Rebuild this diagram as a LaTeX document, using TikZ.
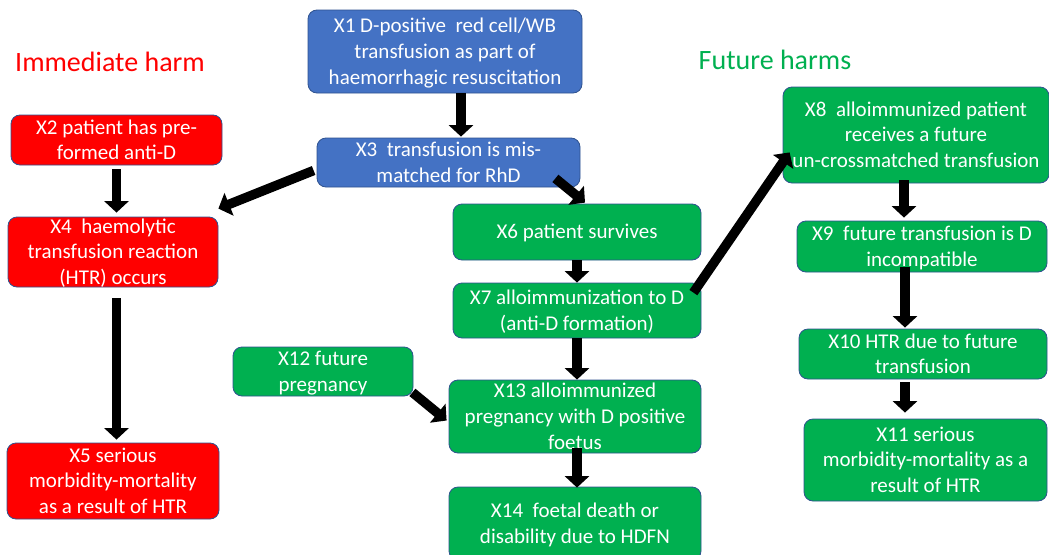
\documentclass[tikz,border=0pt]{standalone}
\usepackage{fontspec}
\setmainfont{Carlito}
\usetikzlibrary{arrows.meta,calc}
\definecolor{pblue}{HTML}{4472C4}
\definecolor{pred}{HTML}{FF0000}
\definecolor{pgreen}{HTML}{00B050}
\definecolor{pedge}{HTML}{2F528F}
\newcommand\bt[1]{\raisebox{-7pt}[0pt][0pt]{\begin{tabular}{@{}c@{}}#1\end{tabular}}}
\begin{document}
\begin{tikzpicture}[x=1pt,y=-1pt,
 box/.style={draw=pedge, line width=0.8pt, rounded corners=9pt, text=white, inner sep=0pt, font=\fontsize{21}{25.6}\selectfont},
 bluebox/.style={box, fill=pblue},
 redbox/.style={box, fill=pred},
 greenbox/.style={box, fill=pgreen},
 arr/.style={line width=9.5pt, draw=black, -{Triangle[width=24pt,length=11.5pt]}},
 title/.style={font=\fontsize{28}{34}\selectfont, inner sep=0pt}]
\clip (0,0) rectangle (1049,554);
\fill[white] (0,0) rectangle (1049,554);
% titles
\node[title, text=pred] (t1) at (110,62) {Immediate harm};
\node[title, text=pgreen] (t2) at (775,60) {Future harms};
% blue
\node[bluebox, minimum width=274pt, minimum height=83pt] (x1) at (445,51.5) {\bt{X1 D-positive\ \ red cell/WB\\transfusion as part of\\haemorrhagic resuscitation}};
\node[bluebox, minimum width=263pt, minimum height=49pt] (x3) at (448.5,162.5) {\bt{X3\ \ transfusion is mis-\\matched for RhD}};
% red
\node[redbox, minimum width=211pt, minimum height=50pt] (x2) at (116.5,140) {\bt{X2 patient has pre-\\formed anti-D}};
\node[redbox, minimum width=210pt, minimum height=70pt] (x4) at (113,252) {\bt{X4\ \ haemolytic\\transfusion reaction\\(HTR) occurs}};
\node[redbox, minimum width=212pt, minimum height=76pt] (x5) at (113,481) {\bt{X5 serious\\morbidity-mortality\\as a result of HTR}};
% green middle
\node[greenbox, minimum width=248pt, minimum height=56pt] (x6) at (577,232) {\bt{X6 patient survives}};
\node[greenbox, minimum width=248pt, minimum height=55pt] (x7) at (577,310.5) {\bt{X7 alloimmunization to D\\(anti-D formation)}};
\node[greenbox, minimum width=180pt, minimum height=49pt] (x12) at (323,371.5) {\bt{X12 future\\pregnancy}};
\node[greenbox, minimum width=252pt, minimum height=73pt] (x13) at (575,416.5) {\bt{X13 alloimmunized\\pregnancy with D positive\\foetus}};
\node[greenbox, minimum width=252pt, minimum height=73pt] (x14) at (575,523.5) {\bt{X14\ \ foetal death or\\disability due to HDFN}};
% green right
\node[greenbox, minimum width=266pt, minimum height=96pt] (x8) at (916,135) {\bt{X8\ \ alloimmunized patient\\receives a future\\un-crossmatched transfusion}};
\node[greenbox, minimum width=250pt, minimum height=51pt] (x9) at (922,246.5) {\bt{X9\ \ future transfusion is D\\incompatible}};
\node[greenbox, minimum width=248pt, minimum height=50pt] (x10) at (923,354) {\bt{X10 HTR due to future\\transfusion}};
\node[greenbox, minimum width=243pt, minimum height=82pt] (x11) at (925.5,460) {\bt{X11 serious\\morbidity-mortality as a\\result of HTR}};
% arrows
\draw[arr] ($(x1.south)+(16,0)$) -- ($(x3.north)+(12.5,-1)$);
\draw[arr] ($(x3.west)+(-3,8)$) -- ($(x4.north east)+(0,-8)$);
\draw[arr] ($(x3.south east)+(-25,-9)$) -- ($(x6.north)+(8,-1)$);
\draw[arr] ($(x2.south)+(0,4)$) -- ($(x4.north)+(3.5,-4)$);
\draw[arr] ($(x4.south)+(3.5,11)$) -- ($(x5.north)+(3.5,-3)$);
\draw[arr] (x6.south) -- (x7.north);
\draw[arr] (x7.south) -- ($(x13.north)+(2,0)$);
\draw[arr] ($(x13.south)+(2,-5)$) -- ($(x14.north)+(2,1)$);
\draw[arr] ($(x7.north east)+(-8,10)$) -- ($(x8.south west)+(7,-31)$);
\draw[arr] ($(x12.south east)+(-1,-4)$) -- ($(x13.west)+(-2,4)$);
\draw[arr] ($(x8.south)+(-12,-3)$) -- ($(x9.north)+(-18,-3)$);
\draw[arr] ($(x9.south)+(-17,-5)$) -- ($(x10.north)+(-18,-1)$);
\draw[arr] ($(x10.south)+(-18,3)$) -- ($(x11.north)+(-20.5,-6)$);
\end{tikzpicture}
\end{document}
